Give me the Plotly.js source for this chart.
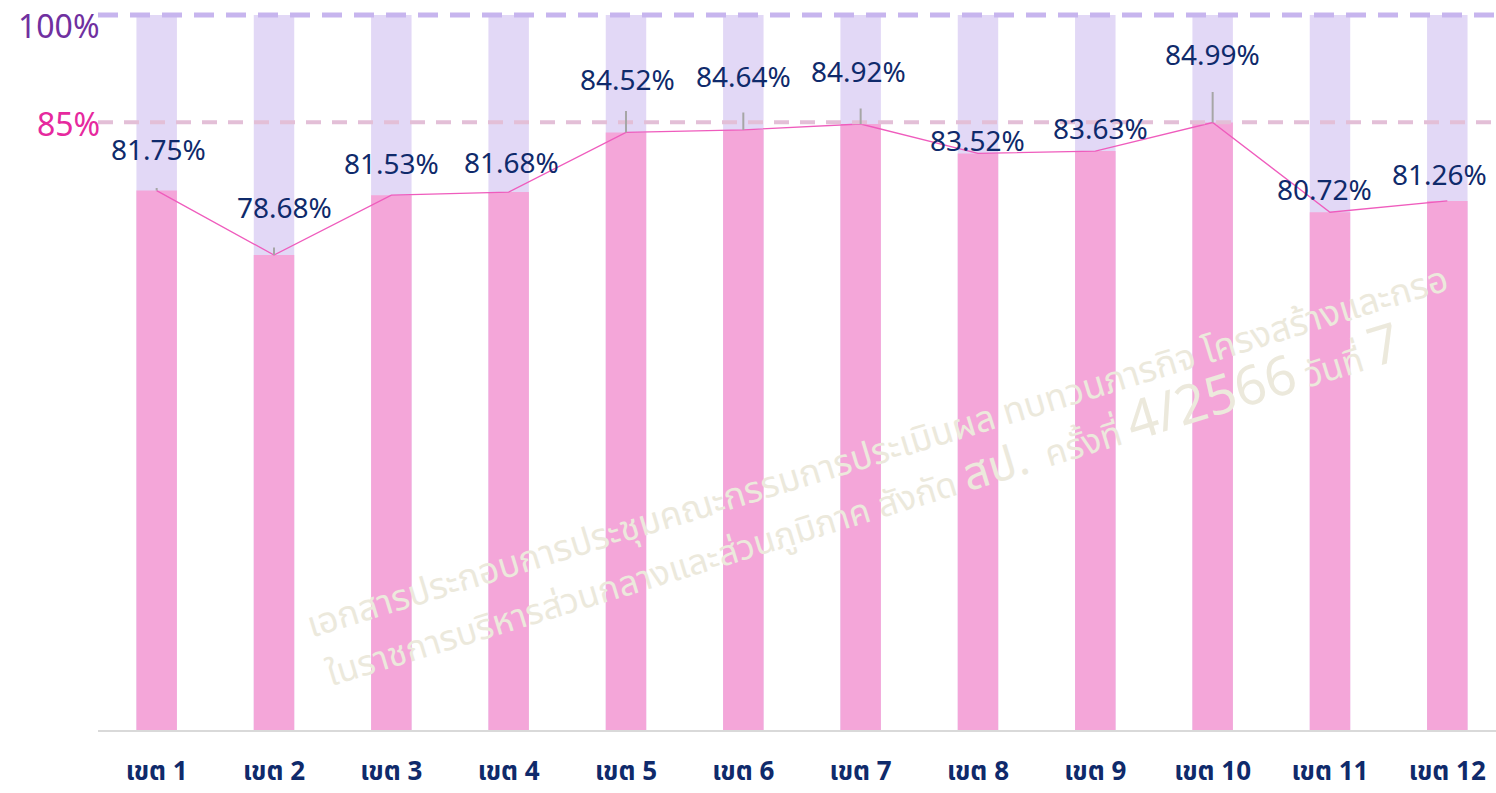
<!DOCTYPE html>
<html><head><meta charset="utf-8">
<script src="https://cdn.plot.ly/plotly-3.0.1.min.js"></script>
<style>html,body{margin:0;padding:0;background:#fff}#chart{width:1496px;height:793px}</style>
</head><body><div id="chart"></div>
<script>
// ---- data ----
const categories = ['เขต 1','เขต 2','เขต 3','เขต 4','เขต 5','เขต 6','เขต 7','เขต 8','เขต 9','เขต 10','เขต 11','เขต 12'];
const achievedPct = [81.75, 78.68, 81.53, 81.68, 84.52, 84.64, 84.92, 83.52, 83.63, 84.99, 80.72, 81.26];
const fullPct = [100, 100, 100, 100, 100, 100, 100, 100, 100, 100, 100, 100];
const targetPct = 85;
const fullLabel = '100%';
const targetLabel = '85%';
const watermarkLine1 = 'เอกสารประกอบการประชุมคณะกรรมการประเมินผล ทบทวนภารกิจ โครงสร้างและกรอ';
const watermarkLine2 = 'ในราชการบริหารส่วนกลางและส่วนภูมิภาค สังกัด <span style="font-size:46px">สป.</span>  ครั้งที่ <span style="font-size:54px">4/2566</span> วันที่ <span style="font-size:54px">7</span>';

// ---- layout helpers (positions) ----
const labelShiftX = [2, 10, 0, 3, 2, 0, -2, 0, 5, 0, -5, -8];
const labelShiftY = [42, 48, 32, 30, 53, 54, 53, 13, 23, 69, 23, 27];
const leaderLen   = [4, 9, 0, 0, 23, 19, 17, 0, 0, 32, 0, 0];

const xIdx = categories.map((c, i) => i);
const navy = '#0f2a6b';

const traces = [
  {type:'bar', x:xIdx, y:fullPct, width:0.345, marker:{color:'#e2d8f6'}, hoverinfo:'skip', showlegend:false},
  {type:'bar', x:xIdx, y:achievedPct, width:0.345, marker:{color:'#f4a6d9'}, showlegend:false},
  {type:'scatter', mode:'lines', x:xIdx, y:achievedPct, line:{color:'#ef5cbd', width:1.3}, showlegend:false}
];

const annotations = [];
achievedPct.forEach((v, i) => {
  annotations.push({x:i, y:v, xref:'x', yref:'y', text:v.toFixed(2)+'%', showarrow:false,
    xshift:labelShiftX[i], yshift:labelShiftY[i],
    font:{family:'Noto Sans, DejaVu Sans, sans-serif', size:28, color:navy}});
  if (leaderLen[i] > 0) {
    annotations.push({x:i, y:v, xref:'x', yref:'y', text:'', showarrow:true, arrowhead:0,
      arrowwidth:2, arrowcolor:'#a6a6a6', ax:0, ay:-leaderLen[i], standoff:0, startstandoff:0});
  }
});
annotations.push({xref:'paper', yref:'paper', x:0, y:1, xanchor:'right', yanchor:'middle', yshift:-10, xshift:4,
  text:fullLabel, showarrow:false, font:{family:'Noto Sans, sans-serif', size:32, color:'#7030a0'}});
annotations.push({xref:'paper', yref:'y', x:0, y:targetPct, xanchor:'right', yanchor:'middle', yshift:-1, xshift:4,
  text:targetLabel, showarrow:false, font:{family:'Noto Sans, sans-serif', size:32, color:'#e6299e'}});
// watermark
annotations.push({xref:'paper', yref:'paper', x:(298-98)/1398, y:(730-655)/715, xanchor:'left', yanchor:'bottom',
  text:watermarkLine1, showarrow:false, textangle:-17,
  font:{family:'Noto Sans Thai, Noto Sans, sans-serif', size:36, color:'#ece9dc'}});
annotations.push({xref:'paper', yref:'paper', x:(312-98)/1398, y:(730-712)/715, xanchor:'left', yanchor:'bottom',
  text:watermarkLine2, showarrow:false, textangle:-17,
  font:{family:'Noto Sans Thai, Noto Sans, sans-serif', size:35, color:'#ece9dc'}});

const layout = {
  width:1496, height:793,
  margin:{l:98, r:0, t:15, b:63},
  paper_bgcolor:'#fff', plot_bgcolor:'#fff',
  barmode:'overlay',
  xaxis:{range:[-0.5, 11.415], tickmode:'array', tickvals:xIdx, ticktext:categories,
    showgrid:false, zeroline:false, showline:true, linecolor:'#d9d9d9', linewidth:2,
    ticks:'', ticklabelstandoff:17,
    tickfont:{family:'Noto Sans Thai, Noto Sans, sans-serif', size:26, color:navy, weight:'bold'}},
  yaxis:{range:[56.07, 90.11], showgrid:false, zeroline:false, showline:false, showticklabels:false, ticks:''},
  shapes:[
    {type:'line', xref:'paper', yref:'paper', x0:0, x1:1, y0:1, y1:1, layer:'above',
      line:{color:'#c7b5ee', width:5, dash:'20px,12px'}},
    {type:'line', xref:'paper', yref:'y', x0:0, x1:1, y0:targetPct, y1:targetPct, layer:'above',
      line:{color:'#e3bfd7', width:4, dash:'15px,11px'}}
  ],
  annotations:annotations,
  showlegend:false
};
Plotly.newPlot('chart', traces, layout, {displayModeBar:false, staticPlot:true});
</script>
</body></html>
